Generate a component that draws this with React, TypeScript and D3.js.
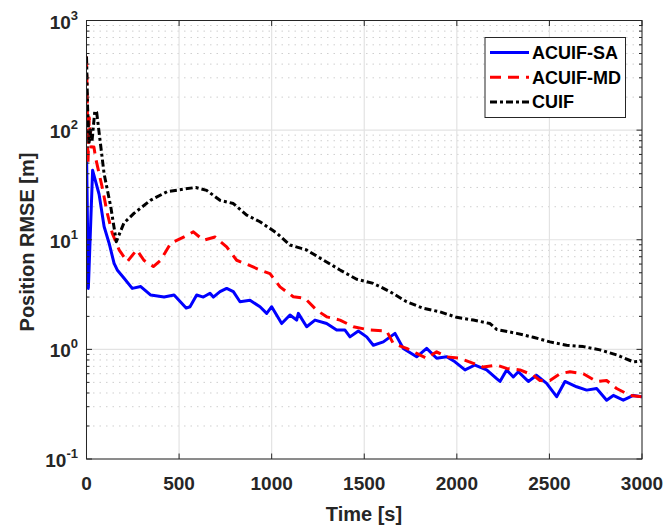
import React from "react";
import * as d3 from "d3";

const blueT = [0,10,33,68,95,122,149,166,203,247,293,347,419,473,538,559,595,631,667,685,721,757,793,829,883,937,973,1000,1054,1099,1135,1144,1189,1234,1297,1351,1396,1423,1468,1513,1549,1603,1666,1711,1783,1837,1891,1945,1990,2044,2098,2161,2215,2233,2269,2305,2332,2386,2431,2485,2539,2584,2647,2701,2755,2809,2845,2899,2953,3000];
const blueV = [66,3.6,43,26,13.2,9.3,6.1,5.3,4.45,3.6,3.74,3.13,3.0,3.13,2.38,2.45,3.13,3.0,3.25,3.0,3.36,3.6,3.36,2.72,2.8,2.45,2.13,2.45,1.72,2.06,1.85,2.13,1.61,1.85,1.72,1.5,1.5,1.3,1.47,1.3,1.09,1.17,1.4,1.02,0.855,1.02,0.83,0.855,0.77,0.65,0.72,0.65,0.54,0.51,0.65,0.56,0.625,0.51,0.58,0.49,0.37,0.51,0.456,0.425,0.44,0.344,0.38,0.344,0.38,0.37];

const redT = [0,4,8,15,25,40,50,85,112,139,176,220,271,310,361,400,455,527,577,631,694,757,811,874,937,991,1045,1117,1180,1243,1297,1369,1441,1531,1621,1657,1729,1783,1837,1891,1945,2017,2089,2143,2215,2269,2341,2413,2449,2503,2557,2611,2683,2755,2809,2863,2935,3000];
const redV = [470,180,50,130,70,70,55,30,17.5,11.5,8.1,6.3,8.1,6.5,5.7,6.5,9.3,10.6,11.8,9.9,10.6,8.6,6.5,5.9,5.3,4.9,3.72,3.02,2.92,2.28,1.98,1.85,1.61,1.5,1.47,1.13,1.02,0.92,0.83,0.95,0.855,0.83,0.745,0.69,0.72,0.67,0.65,0.58,0.52,0.52,0.6,0.625,0.6,0.51,0.52,0.44,0.38,0.37];

const blackT = [0,6,14,22,30,45,55,95,131,161,202,256,347,436,527,590,649,721,793,865,937,1027,1099,1189,1279,1369,1459,1549,1639,1729,1819,1909,1999,2089,2179,2215,2323,2413,2503,2593,2683,2773,2863,2953,3000];
const blackV = [470,160,75,100,80,150,145,40,20,9.6,14.2,17.4,23,27.5,29,30,28.2,22.9,21.4,16.8,14.6,11.5,8.95,8.06,6.53,5.3,4.36,4.0,3.36,2.72,2.37,2.2,1.96,1.85,1.72,1.52,1.4,1.29,1.17,1.09,1.06,0.99,0.89,0.77,0.78];

const seriesNames = ["ACUIF-SA", "ACUIF-MD", "CUIF"];
const xTicks = [0, 500, 1000, 1500, 2000, 2500, 3000];
const yExps = [-1, 0, 1, 2, 3];

const W = 667, H = 526;
const L = 86.5, R = 642, T = 20.5, B = 459;
const FONT = "'Liberation Sans', Arial, Helvetica, sans-serif";
const TXT = "#262626";

export default function App() {
  const x = d3.scaleLinear().domain([0, 3000]).range([L, R]);
  const y = d3.scaleLog().domain([0.1, 1000]).range([B, T]);
  const line = d3.line<[number, number]>().x(d => x(d[0])).y(d => y(d[1]));
  const mk = (t: number[], v: number[]) => t.map((tt, i) => [tt, v[i]] as [number, number]);
  const series = [
    { name: seriesNames[0], d: line(mk(blueT, blueV))!, color: "#0000ff", dash: undefined as string | undefined },
    { name: seriesNames[1], d: line(mk(redT, redV))!, color: "#ff0000", dash: "11,7" },
    { name: seriesNames[2], d: line(mk(blackT, blackV))!, color: "#000000", dash: "7,3,3,3" },
  ];
  const minors: number[] = [];
  for (let e = -1; e < 3; e++) for (let k = 2; k <= 9; k++) minors.push(k * Math.pow(10, e));

  return (
    <svg width={W} height={H} style={{ display: "block", position: "absolute", left: 0, top: 0, background: "#fff" }}>
      <defs>
        <clipPath id="plot"><rect x={L} y={T} width={R - L} height={B - T} /></clipPath>
      </defs>
      <rect x={0} y={0} width={W} height={H} fill="#fff" />
      {/* minor grid */}
      {minors.map((m, i) => (
        <line key={"mg" + i} x1={L} x2={R} y1={y(m)} y2={y(m)} stroke="#cfcfcf" strokeWidth={1} strokeDasharray="1.5,5" />
      ))}
      {/* major grid */}
      {yExps.map(e => (
        <line key={"yg" + e} x1={L} x2={R} y1={y(Math.pow(10, e))} y2={y(Math.pow(10, e))} stroke="#e3e3e3" strokeWidth={1.2} />
      ))}
      {xTicks.map(t => (
        <line key={"xg" + t} x1={x(t)} x2={x(t)} y1={T} y2={B} stroke="#e3e3e3" strokeWidth={1.2} />
      ))}
      {/* data */}
      <g clipPath="url(#plot)">
        {series.map(s => (
          <path key={s.name} d={s.d} fill="none" stroke={s.color} strokeWidth={3} strokeDasharray={s.dash} strokeLinejoin="round" />
        ))}
      </g>
      {/* axes box */}
      <rect x={L} y={T} width={R - L} height={B - T} fill="none" stroke={TXT} strokeWidth={1} />
      {xTicks.map(t => (
        <g key={"xt" + t}>
          <line x1={x(t)} x2={x(t)} y1={B} y2={B - 5.5} stroke={TXT} />
          <line x1={x(t)} x2={x(t)} y1={T} y2={T + 5.5} stroke={TXT} />
          <text x={x(t)} y={490} textAnchor="middle" fontFamily={FONT} fontWeight="bold" fontSize={19} fill={TXT}>{t}</text>
        </g>
      ))}
      {yExps.map(e => (
        <g key={"yt" + e}>
          <line x1={L} x2={L + 5.5} y1={y(Math.pow(10, e))} y2={y(Math.pow(10, e))} stroke={TXT} />
          <line x1={R} x2={R - 5.5} y1={y(Math.pow(10, e))} y2={y(Math.pow(10, e))} stroke={TXT} />
          <text x={78} y={y(Math.pow(10, e)) + 8} textAnchor="end" fontFamily={FONT} fontWeight="bold" fontSize={19} fill={TXT}>
            10<tspan dy={-9} fontSize={13}>{e}</tspan>
          </text>
        </g>
      ))}
      {minors.map((m, i) => (
        <g key={"mt" + i}>
          <line x1={L} x2={L + 3} y1={y(m)} y2={y(m)} stroke={TXT} />
          <line x1={R} x2={R - 3} y1={y(m)} y2={y(m)} stroke={TXT} />
        </g>
      ))}
      <text x={364} y={521} textAnchor="middle" fontFamily={FONT} fontWeight="bold" fontSize={20} fill={TXT}>Time [s]</text>
      <text transform="translate(34,242) rotate(-90)" textAnchor="middle" fontFamily={FONT} fontWeight="bold" fontSize={20} fill={TXT}>Position RMSE [m]</text>
      {/* legend */}
      <rect x={485} y={37.5} width={140.5} height={80} fill="#fff" stroke={TXT} strokeWidth={1} />
      {series.map((s, i) => {
        const yy = 52.5 + i * 24.7;
        return (
          <g key={"lg" + i}>
            <line x1={490} x2={529} y1={yy} y2={yy} stroke={s.color} strokeWidth={3} strokeDasharray={s.dash} />
            <text x={532} y={yy + 6.5} fontFamily={FONT} fontWeight="bold" fontSize={18} fill="#000">{s.name}</text>
          </g>
        );
      })}
    </svg>
  );
}
